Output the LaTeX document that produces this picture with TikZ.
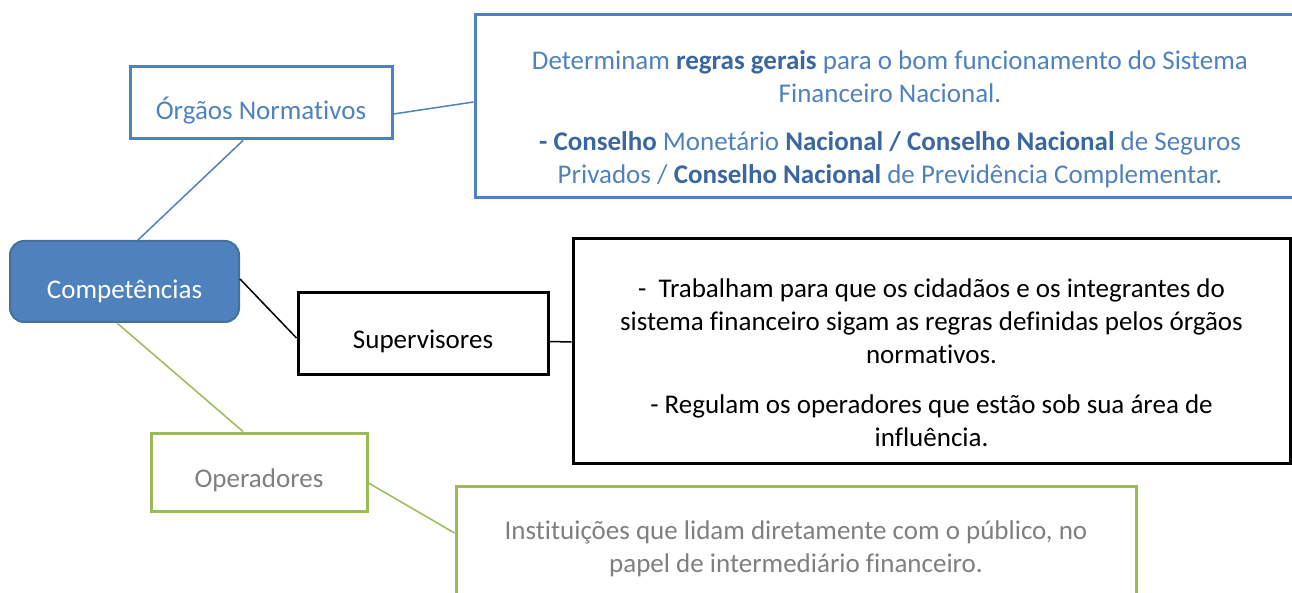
\documentclass[tikz,border=0pt]{standalone}
\usepackage{fontspec}
\setmainfont{Carlito}[Ligatures=NoCommon]
\definecolor{nodeblue}{HTML}{4F81BD}
\definecolor{edgeblue}{HTML}{41719C}
\definecolor{boldblue}{HTML}{3A67A0}
\definecolor{opgreen}{HTML}{9BBB59}
\definecolor{opgray}{HTML}{7F7F7F}
\newcommand{\bblue}[1]{\textbf{\color{boldblue}#1}}

\begin{document}
\begin{tikzpicture}[x=1pt, y=-1pt,
    every node/.style={font=\fontsize{27}{33}\selectfont},
    box/.style={draw, line width=3pt, inner sep=0pt, text height=36pt, text depth=6pt},
    descbox/.style={draw, line width=3pt, inner sep=0pt},
    desc/.style={align=center, inner sep=0pt},
    link/.style={line width=1.5pt}]
  \useasboundingbox (0,0) rectangle (1292,593);
  \clip (0,0) rectangle (1292,593);
  % centro
  \node[box, draw=edgeblue, line width=2pt, fill=nodeblue, text=white, rounded corners=14pt,
        text height=40pt, minimum width=229pt, minimum height=81pt] (comp) at (124.5,281.5) {Competências};
  % orgaos normativos
  \node[box, draw=nodeblue, text=nodeblue, text height=40pt, minimum width=262pt, minimum height=72pt] (orgaos) at (261,103) {Órgãos Normativos};
  \node[descbox, draw=nodeblue, minimum width=830pt, minimum height=183pt] (orgdesc) at (890,106.5) {};
  \node[desc, text=nodeblue] (orgtext) at ([yshift=-12.5pt]orgdesc.center)
    {Determinam \bblue{regras gerais} para o bom funcionamento do Sistema\\
     Financeiro Nacional.\\[15pt]
     \bblue{- Conselho} Monetário \bblue{Nacional / Conselho Nacional} de Seguros\\
     Privados / \bblue{Conselho Nacional} de Previdência Complementar.};
  % supervisores
  \node[box, minimum width=250pt, minimum height=81pt] (sup) at (423,333.5) {Supervisores};
  \node[descbox, minimum width=717pt, minimum height=224pt] (supdesc) at (931.5,351) {};
  \node[desc] (suptext) at ([yshift=-12pt]supdesc.center)
    {-\ \ Trabalham para que os cidadãos e os integrantes do\\
     sistema financeiro sigam as regras definidas pelos órgãos\\
     normativos.\\[17pt]
     - Regulam os operadores que estão sob sua área de\\
     influência.};
  % operadores
  \node[box, draw=opgreen, text=opgray, minimum width=216pt, minimum height=78pt] (oper) at (259,472) {Operadores};
  \node[descbox, draw=opgreen, minimum width=680pt, minimum height=130pt] (operdesc) at (796,551) {};
  \node[desc, text=opgray] (opertext) at ([yshift=2pt]operdesc.center)
    {Instituições que lidam diretamente com o público, no\\
     papel de intermediário financeiro.};
  % ligacoes
  \draw[link, nodeblue] ([xshift=-18pt]orgaos.south) -- ([xshift=13.5pt]comp.north);
  \draw[link, nodeblue] ([yshift=-11pt]orgaos.east) -- ([yshift=4.5pt]orgdesc.west);
  \draw[link, black] ([yshift=2.5pt]comp.east) -- ([yshift=-4.5pt]sup.west);
  \draw[link, black] ([yshift=-8pt]sup.east) -- ([yshift=9pt]supdesc.west);
  \draw[link, opgreen] ([xshift=-7.5pt]comp.south) -- ([xshift=-16pt]oper.north);
  \draw[link, opgreen] ([yshift=-11pt]oper.east) -- ([yshift=18pt]operdesc.west);
\end{tikzpicture}
\end{document}
